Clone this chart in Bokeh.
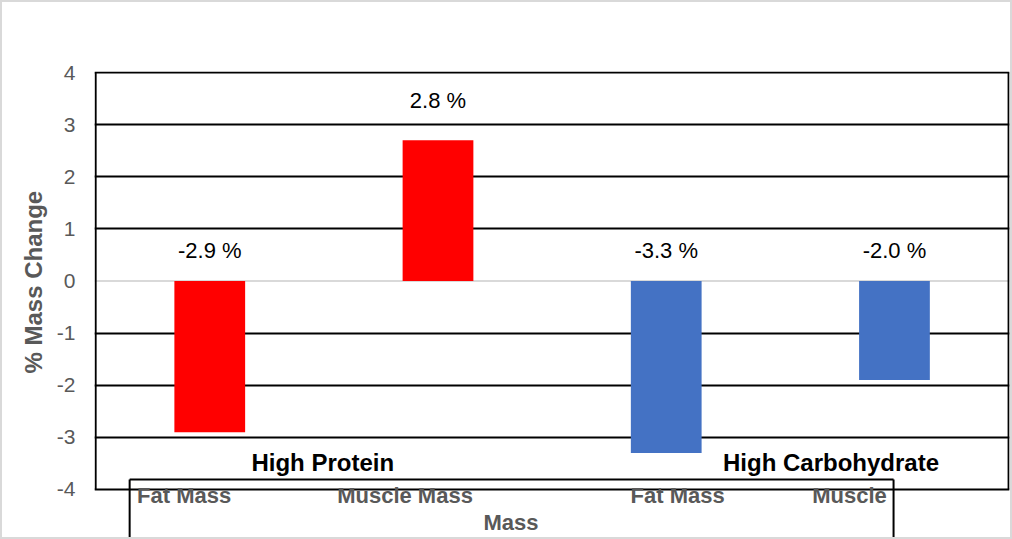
from bokeh.plotting import figure
from bokeh.models import (Range1d, FixedTicker, Span, Label, ColumnDataSource, Title,
                          InlineStyleSheet)
from bokeh.core.properties import value
from bokeh.embed import file_html
from bokeh.resources import INLINE

# ---- data ----
categories = ["Fat Mass", "Muscle  Mass", "Fat Mass", "Muscle"]
groups = ["High Protein", "High Protein", "High Carbohydrate", "High Carbohydrate"]
values = [-2.9, 2.7, -3.3, -1.9]
value_labels = ["-2.9 %", "2.8 %", "-3.3 %", "-2.0 %"]
bar_colors = ["#FF0000", "#FF0000", "#4472C4", "#4472C4"]
y_ticks = [-4, -3, -2, -1, 0, 1, 2, 3, 4]
y_tick_labels = ["-4", "-3", "-2", "-1", "0", "1", "2", "3", "4"]
y_title = "% Mass Change"
x_title = "Mass"
group_names = ["High Protein", "High Carbohydrate"]

# ---- layout constants (positions in data units) ----
cat_label_x = [0.388, 1.369, 2.550, 3.303]
cat_label_y = -4.115
x_title_pos = (1.82, -4.633)
box_left, box_right, box_top = 0.149, 3.496, -3.81
group_label_x = [0.995, 3.222]
group_label_y = -3.48
Y_MIN, Y_MAX = -4.96, 4.02
FONT = "Liberation Sans"
GRAY = "#595959"

xc = [i + 0.5 for i in range(len(values))]
label_y = [0.59 if v < 0 else v + 0.76 for v in values]

p = figure(width=1012, height=539, x_range=Range1d(-0.005, 4.004), y_range=Range1d(Y_MIN, Y_MAX),
           output_backend="svg", toolbar_location=None, x_axis_location=None,
           min_border_left=94, min_border_right=3, min_border_top=71, min_border_bottom=0)
p.background_fill_color = "white"
p.border_fill_color = "white"
p.outline_line_color = None
p.stylesheets = [InlineStyleSheet(css=(
    ":host::after { content: ''; position: absolute; left: 0; top: 0; right: 0; bottom: 0; "
    "border: 2px solid #d9d9d9; pointer-events: none; z-index: 1000; }"))]

# y axis
ya = p.yaxis[0]
ya.ticker = FixedTicker(ticks=y_ticks)
ya.major_label_overrides = {t: s for t, s in zip(y_ticks, y_tick_labels)}
ya.axis_line_color = None
ya.major_tick_line_color = None
ya.minor_tick_line_color = None
ya.major_tick_out = 0
ya.major_tick_in = 0
ya.major_label_standoff = 19
ya.major_label_text_font = FONT
ya.major_label_text_font_size = "21px"
ya.major_label_text_color = GRAY

# y title (as a left-side title so it can sit centred on the -4..4 part)
p.add_layout(Title(text=y_title, align="left", offset=166, vertical_align="middle",
                   standoff=12, text_font=FONT, text_font_size="24px",
                   text_font_style="bold", text_color=GRAY), "left")

# grid (all integer lines black except zero)
p.xgrid.visible = False
p.ygrid.ticker = FixedTicker(ticks=[t for t in y_ticks if t != 0])
p.ygrid.grid_line_color = "black"
p.ygrid.grid_line_width = 2

p.add_layout(Span(location=0, dimension="width", line_color="#d9d9d9", line_width=2,
                  level="underlay"), "center")

# left / right plot-area borders
p.segment(x0=[0, 4], x1=[0, 4], y0=[min(y_ticks)] * 2, y1=[max(y_ticks)] * 2,
          line_color="black", line_width=2)

src = ColumnDataSource(dict(x=xc, top=values, color=bar_colors, ly=label_y, lab=value_labels))
p.vbar(x="x", top="top", bottom=0, width=0.31, fill_color="color", line_color=None, source=src)
p.text(x="x", y="ly", text="lab", source=src, text_align="center", text_baseline="middle",
       text_font=value(FONT), text_font_size="22px", text_color="black")

# box around the category labels
p.segment(x0=[box_left, box_left, box_right], x1=[box_right, box_left, box_right],
          y0=[box_top, box_top, box_top], y1=[box_top, Y_MIN, Y_MIN],
          line_color="black", line_width=2)

# category labels and axis title
p.text(x=cat_label_x, y=[cat_label_y] * len(categories), text=categories,
       text_align="center", text_baseline="middle", text_font=value(FONT),
       text_font_size="22px", text_font_style="bold", text_color=GRAY)
p.text(x=[x_title_pos[0]], y=[x_title_pos[1]], text=[x_title],
       text_align="center", text_baseline="middle", text_font=value(FONT),
       text_font_size="22px", text_font_style="bold", text_color=GRAY)

# group labels
for gx, g in zip(group_label_x, group_names):
    p.add_layout(Label(x=gx, y=group_label_y, text=g, text_align="center", text_baseline="middle",
                       text_font=FONT, text_font_size="24px", text_font_style="bold",
                       text_color="black"))

open("out.html", "w").write(file_html(p, INLINE))
